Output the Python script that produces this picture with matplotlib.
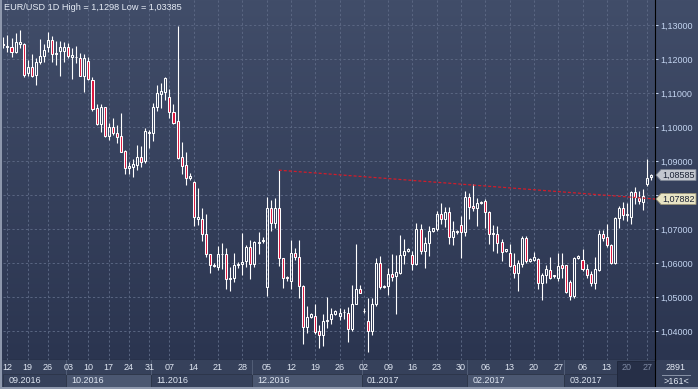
import numpy as np
import pandas as pd
import matplotlib
matplotlib.use("Agg")
import matplotlib.pyplot as plt
from matplotlib.patches import Rectangle, Polygon
from matplotlib.ticker import FuncFormatter
from matplotlib.transforms import IdentityTransform

plt.rcParams["font.family"] = ["Liberation Sans", "DejaVu Sans"]
plt.rcParams["font.size"] = 6.5

# EUR/USD daily bars (open, high, low, close)
opens = [
    1.1245, 1.1234, 1.1234, 1.1220, 1.1243, 1.1243, 1.1158, 1.1175, 1.1153, 1.1190,
    1.1209, 1.1236, 1.1256, 1.1214, 1.1224, 1.1224, 1.1234, 1.1205, 1.1207, 1.1204,
    1.1151, 1.1194, 1.1138, 1.1055, 1.1008, 1.1058, 1.0974, 1.0999, 1.0982, 1.0974,
    1.0929, 1.0880, 1.0883, 1.0888, 1.0911, 1.0901, 1.0982, 1.0981, 1.1058, 1.1098,
    1.1104, 1.1087, 1.1045, 1.1018, 1.0911, 1.0888, 1.0849, 1.0839, 1.0729, 1.0729,
    1.0685, 1.0625, 1.0594, 1.0587, 1.0627, 1.0625, 1.0553, 1.0555, 1.0594, 1.0596,
    1.0605, 1.0648, 1.0597, 1.0660, 1.0665, 1.0530, 1.0761, 1.0719, 1.0761, 1.0614,
    1.0560, 1.0547, 1.0630, 1.0619, 1.0532, 1.0412, 1.0442, 1.0444, 1.0400, 1.0387,
    1.0429, 1.0434, 1.0449, 1.0444, 1.0455, 1.0454, 1.0405, 1.0480, 1.0523, 1.0460,
    1.0429, 1.0400, 1.0480, 1.0599, 1.0530, 1.0532, 1.0567, 1.0562, 1.0572, 1.0624,
    1.0635, 1.0624, 1.0596, 1.0701, 1.0635, 1.0658, 1.0695, 1.0701, 1.0743, 1.0728,
    1.0750, 1.0675, 1.0694, 1.0712, 1.0692, 1.0794, 1.0768, 1.0763, 1.0777, 1.0782,
    1.0751, 1.0688, 1.0684, 1.0663, 1.0635, 1.0628, 1.0594, 1.0572, 1.0596, 1.0673,
    1.0606, 1.0610, 1.0613, 1.0542, 1.0565, 1.0578, 1.0564, 1.0557, 1.0593, 1.0593,
    1.0544, 1.0503, 1.0614, 1.0609, 1.0581, 1.0567, 1.0542, 1.0580, 1.0686, 1.0677,
    1.0652, 1.0601, 1.0731, 1.0763, 1.0740, 1.0735, 1.0809, 1.0792, 1.0780, 1.0833,
    1.0853,
]
highs = [
    1.1266, 1.1271, 1.1261, 1.1275, 1.1285, 1.1246, 1.1197, 1.1214, 1.1202, 1.1259,
    1.1243, 1.1280, 1.1269, 1.1253, 1.1253, 1.1251, 1.1246, 1.1231, 1.1237, 1.1217,
    1.1215, 1.1207, 1.1148, 1.1067, 1.1067, 1.1060, 1.1011, 1.1025, 1.1006, 1.1040,
    1.0932, 1.0898, 1.0905, 1.0947, 1.0944, 1.0996, 1.0991, 1.1072, 1.1124, 1.1128,
    1.1148, 1.1112, 1.1067, 1.1298, 1.0957, 1.0925, 1.0864, 1.0842, 1.0822, 1.0762,
    1.0745, 1.0627, 1.0599, 1.0651, 1.0658, 1.0643, 1.0587, 1.0628, 1.0604, 1.0687,
    1.0653, 1.0668, 1.0665, 1.0692, 1.0677, 1.0794, 1.0784, 1.0792, 1.0873, 1.0616,
    1.0561, 1.0667, 1.0645, 1.0667, 1.0534, 1.0474, 1.0454, 1.0478, 1.0418, 1.0449,
    1.0500, 1.0467, 1.0461, 1.0467, 1.0464, 1.0471, 1.0535, 1.0655, 1.0535, 1.0467,
    1.0498, 1.0498, 1.0614, 1.0621, 1.0535, 1.0584, 1.0625, 1.0624, 1.0682, 1.0672,
    1.0645, 1.0635, 1.0719, 1.0716, 1.0675, 1.0709, 1.0704, 1.0753, 1.0775, 1.0765,
    1.0765, 1.0724, 1.0696, 1.0738, 1.0812, 1.0807, 1.0831, 1.0792, 1.0782, 1.0787,
    1.0753, 1.0712, 1.0709, 1.0670, 1.0642, 1.0655, 1.0630, 1.0609, 1.0680, 1.0678,
    1.0614, 1.0632, 1.0616, 1.0572, 1.0594, 1.0618, 1.0565, 1.0630, 1.0630, 1.0593,
    1.0549, 1.0618, 1.0623, 1.0640, 1.0596, 1.0576, 1.0618, 1.0696, 1.0696, 1.0714,
    1.0655, 1.0735, 1.0768, 1.0780, 1.0775, 1.0812, 1.0824, 1.0812, 1.0817, 1.0905,
    1.0862,
]
lows = [
    1.1231, 1.1222, 1.1207, 1.1217, 1.1231, 1.1148, 1.1151, 1.1148, 1.1124, 1.1184,
    1.1192, 1.1222, 1.1192, 1.1182, 1.1151, 1.1192, 1.1202, 1.1141, 1.1187, 1.1151,
    1.1104, 1.1138, 1.1048, 1.1006, 1.0986, 1.0972, 1.0962, 1.0976, 1.0954, 1.0925,
    1.0861, 1.0861, 1.0852, 1.0874, 1.0883, 1.0893, 1.0937, 1.0959, 1.1047, 1.1057,
    1.1079, 1.1027, 1.1008, 1.0906, 1.0861, 1.0829, 1.0844, 1.0710, 1.0712, 1.0665,
    1.0619, 1.0570, 1.0587, 1.0579, 1.0582, 1.0524, 1.0519, 1.0545, 1.0584, 1.0565,
    1.0589, 1.0552, 1.0589, 1.0625, 1.0660, 1.0503, 1.0694, 1.0704, 1.0591, 1.0527,
    1.0548, 1.0523, 1.0608, 1.0496, 1.0363, 1.0395, 1.0439, 1.0392, 1.0351, 1.0356,
    1.0410, 1.0420, 1.0447, 1.0431, 1.0434, 1.0369, 1.0400, 1.0478, 1.0511, 1.0454,
    1.03385, 1.0388, 1.0474, 1.0523, 1.0527, 1.0506, 1.0547, 1.0451, 1.0569, 1.0596,
    1.0632, 1.0578, 1.0594, 1.0627, 1.0586, 1.0621, 1.0692, 1.0694, 1.0714, 1.0706,
    1.0655, 1.0653, 1.0686, 1.0616, 1.0679, 1.0728, 1.0753, 1.0709, 1.0774, 1.0704,
    1.0655, 1.0635, 1.0630, 1.0606, 1.0632, 1.0588, 1.0557, 1.0518, 1.0588, 1.0601,
    1.0604, 1.0606, 1.0523, 1.0490, 1.0542, 1.0552, 1.0555, 1.0547, 1.0557, 1.0513,
    1.0491, 1.0498, 1.0611, 1.0576, 1.0557, 1.0532, 1.0523, 1.0576, 1.0665, 1.0647,
    1.0598, 1.0598, 1.0702, 1.0725, 1.0724, 1.0716, 1.0773, 1.0773, 1.0755, 1.0826,
    1.0845,
]
closes = [
    1.1240, 1.1238, 1.1220, 1.1249, 1.1251, 1.1153, 1.1177, 1.1151, 1.1190, 1.1209,
    1.1226, 1.1256, 1.1214, 1.1218, 1.1234, 1.1235, 1.1210, 1.1212, 1.1206, 1.1151,
    1.1202, 1.1140, 1.1053, 1.1008, 1.1058, 1.0974, 1.0999, 1.0981, 1.0972, 1.0927,
    1.0880, 1.0886, 1.0890, 1.0911, 1.0898, 1.0988, 1.0986, 1.1058, 1.1099, 1.1106,
    1.1143, 1.1045, 1.1011, 1.0910, 1.0886, 1.0849, 1.0856, 1.0734, 1.0736, 1.0684,
    1.0625, 1.0594, 1.0592, 1.0625, 1.0625, 1.0552, 1.0555, 1.0594, 1.0596, 1.0602,
    1.0648, 1.0596, 1.0661, 1.0663, 1.0667, 1.0761, 1.0719, 1.0761, 1.0614, 1.0557,
    1.0556, 1.0630, 1.0618, 1.0532, 1.0412, 1.0442, 1.0451, 1.0398, 1.0387, 1.0429,
    1.0432, 1.0449, 1.0459, 1.0454, 1.0457, 1.0405, 1.0480, 1.0523, 1.0513, 1.0459,
    1.0400, 1.0480, 1.0599, 1.0529, 1.0532, 1.0567, 1.0560, 1.0574, 1.0624, 1.0635,
    1.0642, 1.0596, 1.0701, 1.0635, 1.0658, 1.0694, 1.0702, 1.0743, 1.0728, 1.0750,
    1.0675, 1.0694, 1.0692, 1.0692, 1.0794, 1.0765, 1.0761, 1.0777, 1.0779, 1.0751,
    1.0686, 1.0685, 1.0660, 1.0632, 1.0640, 1.0591, 1.0572, 1.0599, 1.0673, 1.0606,
    1.0612, 1.0618, 1.0542, 1.0565, 1.0583, 1.0557, 1.0562, 1.0591, 1.0586, 1.0515,
    1.0503, 1.0616, 1.0620, 1.0581, 1.0565, 1.0542, 1.0582, 1.0684, 1.0673, 1.0653,
    1.0601, 1.0731, 1.0763, 1.0740, 1.0745, 1.0809, 1.0794, 1.0782, 1.0797, 1.0851,
    1.08585,
]

# broker calendar: Sunday bars only between the two DST switches
dates = (
    [pd.Timestamp("2016-09-09")]
    + list(pd.bdate_range("2016-09-12", "2016-11-11"))
    + [d for d in pd.date_range("2016-11-13", "2017-03-12") if d.weekday() != 5]
    + list(pd.bdate_range("2017-03-13", "2017-03-28"))
)

price_ticks = [1.04, 1.05, 1.06, 1.07, 1.08, 1.09, 1.10, 1.11, 1.12, 1.13]
trend_start = (68, 1.0873)     # dotted resistance line, from the Dec 8 high
trend_end_value = 1.07882       # its value at the right edge
last_price = 1.08585
title = "EUR/USD 1D High = 1,1298 Low = 1,03385"
bars_total = "2891"
bars_visible = ">161<"

W, H = 698, 389
STRIP = "#36415b"
fig = plt.figure(figsize=(W / 100, H / 100), dpi=100, facecolor=STRIP)


def px(x, y, w, h):
    return [x / W, 1 - (y + h) / H, w / W, h / H]


# gradient background behind plot + price scale
bg = fig.add_axes(px(0, 0, W, 360))
top = np.array([0x41, 0x4d, 0x69]) / 255
bot = np.array([0x2b, 0x35, 0x50]) / 255
t = np.linspace(0, 1, 256)[:, None, None]
bg.imshow(top + (bot - top) * t, aspect="auto", extent=(0, 1, 0, 1))
bg.axis("off")

ax = fig.add_axes(px(3, 0, 652, 360))
ax.set_facecolor("none")
ax.set_xlim(-0.1, 160.9)
ax.set_ylim(1.03147, 1.13735)

o, h, l, c = (np.array(a) for a in (opens, highs, lows, closes))
x = np.arange(len(o))
body_top = np.maximum(o, c)
body_bot = np.minimum(o, c)
body_h = np.maximum(body_top - body_bot, 0.00005)
fills = np.where(c >= o, "none", "#dc143c")

ax.vlines(x, body_top, h, color="white", lw=0.8, zorder=3)
ax.vlines(x, l, body_bot, color="white", lw=0.8, zorder=3)
ax.bar(x, body_h, bottom=body_bot, width=0.5, color=fills,
       edgecolor="white", linewidth=0.75, zorder=4)

# trend line
xr = ax.get_xlim()[1]
ax.plot([trend_start[0], xr], [trend_start[1], trend_end_value],
        color="#d21c2a", lw=0.9, ls=(0, (2.4, 1.6)), zorder=5)

# grid on Mondays / every figure
mondays = [i for i, d in enumerate(dates) if d.weekday() == 0]
ax.set_xticks(mondays)
ax.set_yticks(price_ticks)
ax.set_axisbelow(True)
ax.grid(True, color="#5a6682", lw=0.7, ls=(0, (2.3, 2.3)))
ax.tick_params(axis="x", length=0, labelbottom=False)
ax.yaxis.tick_right()
ax.tick_params(axis="y", colors="#c3d4f0", length=2, width=0.7, pad=2,
               labelsize=6.5)
ax.yaxis.set_major_formatter(
    FuncFormatter(lambda v, _: f"{v:.5f}".replace(".", ",")))
for s in ("top", "left"):
    ax.spines[s].set_visible(False)
ax.spines["right"].set_color("black")
ax.spines["bottom"].set_color("black")

fig.text(4 / W, 1 - 8 / H, title, va="center", color="#e6ecf6", fontsize=6.6)

# price tags on the scale
fig.canvas.draw()
xpix = ax.transAxes.transform((1, 0))[0]
for val, fc, ec in ((last_price, "#c3c7cf", "#7d8594"),
                    (trend_end_value, "#e8e4c4", "#9a9478")):
    yp = ax.transData.transform((0, val))[1]
    pts = [(xpix + 1, yp), (xpix + 6, yp + 5.5), (xpix + 41, yp + 5.5),
           (xpix + 41, yp - 5.5), (xpix + 6, yp - 5.5)]
    fig.add_artist(Polygon(pts, closed=True, fc=fc, ec=ec, lw=0.6,
                           transform=IdentityTransform(), zorder=10))
    fig.text(xpix + 7, yp, f"{val:.5f}".replace(".", ","), color="#1b2235",
             va="center", ha="left", fontsize=6.5,
             transform=IdentityTransform(), zorder=11)

# date strip
st = fig.add_axes(px(3, 360, 652, 29))
st.set_facecolor(STRIP)
st.set_xlim(ax.get_xlim())
st.set_ylim(0, 29)
st.set_xticks([])
st.set_yticks([])
for s in ("top", "left", "bottom"):
    st.spines[s].set_visible(False)
st.spines["right"].set_color("black")

month_key = [(d - pd.Timedelta(days=1) if d.weekday() == 6 else d).strftime("%m.%Y")
             for d in dates]
starts = [0] + [i for i in range(1, len(dates)) if month_key[i] != month_key[i - 1]]
edges = [xl if k == 0 else s - 0.5 for k, s in enumerate(starts)
         for xl in [ax.get_xlim()[0]]] + [xr]
dark_from = 151.5
for k, s in enumerate(starts):
    x0, x1 = edges[k], min(edges[k + 1], dark_from)
    st.add_patch(Rectangle((x0, 2), x1 - x0, 13.5,
                           fc="#4b5771" if k % 2 else STRIP,
                           ec="#2c3548", lw=0.6))
    if k:
        st.plot([x0, x0], [15.5, 29], color="#57637c", lw=0.6)
    st.text(x0 + 1.3, 8.5, month_key[s], color="#dfe6f2", va="center",
            ha="left", fontsize=6.5)
st.add_patch(Rectangle((dark_from, 2), xr - dark_from, 26, fc="#262f47",
                       ec="#1e263a", lw=0.6))
for i in mondays:
    st.text(i, 21, dates[i].strftime("%d"), ha="center", va="center",
            fontsize=6.5, color="#7f8aa3" if i > dark_from else "#dfe6f2")

# bar counter box
fig.text(676 / W, 1 - 368 / H, bars_total, ha="center", va="center",
         color="#e6ecf6", fontsize=6.5)
fig.text(676 / W, 1 - 382 / H, bars_visible, ha="center", va="center",
         color="#e6ecf6", fontsize=6.5)
fig.add_artist(plt.Line2D([662 / W, 690 / W], [1 - 375 / H] * 2,
                          color="#8a94a8", lw=0.7))

# window frame
fig.add_artist(Rectangle((0, 0), 2 / W, 1, transform=fig.transFigure,
                         fc="#8e98ad", ec="none"))
fig.add_artist(Rectangle((0, 0), 1, 2 / H, transform=fig.transFigure,
                         fc="#8e98ad", ec="none"))

fig.savefig("out.png", dpi=100, facecolor=fig.get_facecolor())
